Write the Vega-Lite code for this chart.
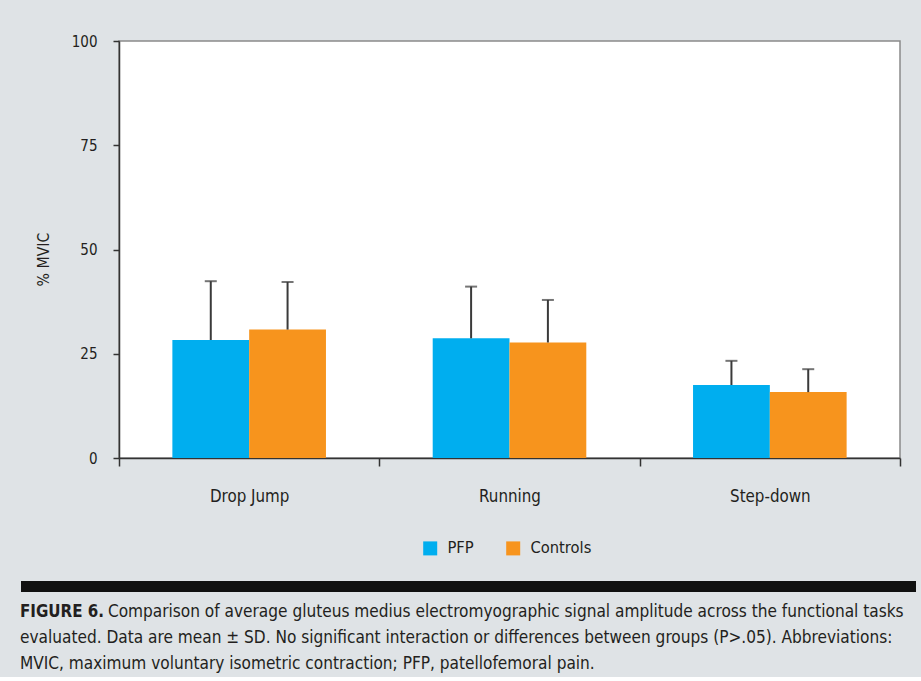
{
  "$schema": "https://vega.github.io/schema/vega-lite/v6.json",
  "background": "#dfe3e6",
  "padding": {"left": 15, "top": 33, "right": 5, "bottom": 5},
  "config": {
    "font": "DejaVu Sans Condensed, DejaVu Sans, sans-serif",
    "view": {"stroke": null}
  },
  "title": {
    "text": "FIGURE 6.",
    "subtitle": [
      "\u200b\u00a0\u00a0\u00a0\u00a0\u00a0\u00a0\u00a0\u00a0\u00a0\u00a0\u00a0\u00a0\u00a0\u00a0\u00a0\u00a0\u00a0\u00a0Comparison of average gluteus medius electromyographic signal amplitude across the functional tasks",
      "evaluated. Data are mean \u00b1 SD. No significant interaction or differences between groups (P>.05). Abbreviations:",
      "MVIC, maximum voluntary isometric contraction; PFP, patellofemoral pain."
    ],
    "orient": "bottom",
    "anchor": "start",
    "frame": "bounds",
    "dx": 5,
    "font": "DejaVu Sans Condensed, DejaVu Sans, sans-serif",
    "fontSize": 16.8,
    "fontWeight": "bold",
    "color": "#231f20",
    "subtitleFont": "DejaVu Sans Condensed, DejaVu Sans, sans-serif",
    "subtitleFontSize": 17.1,
    "subtitleColor": "#231f20",
    "subtitleLineHeight": 26,
    "subtitlePadding": -18,
    "offset": 12
  },
  "spacing": 22,
  "resolve": {"legend": {"color": "independent"}},
  "vconcat": [
    {
      "width": 781,
      "height": 417,
      "view": {"fill": "white", "stroke": "#8a8a8a", "strokeWidth": 1.5},
      "data": {
        "values": [
          {"task": "Drop Jump", "group": "PFP", "mean": 28.3, "upper": 42.4},
          {"task": "Drop Jump", "group": "Controls", "mean": 30.8, "upper": 42.2},
          {"task": "Running", "group": "PFP", "mean": 28.7, "upper": 41.1},
          {"task": "Running", "group": "Controls", "mean": 27.7, "upper": 37.9},
          {"task": "Step-down", "group": "PFP", "mean": 17.5, "upper": 23.3},
          {"task": "Step-down", "group": "Controls", "mean": 15.8, "upper": 21.3}
        ]
      },
      "encoding": {
        "x": {
          "field": "task",
          "type": "nominal",
          "sort": ["Drop Jump", "Running", "Step-down"],
          "scale": {"paddingInner": 0, "paddingOuter": 0},
          "axis": {
            "title": null,
            "labelAngle": 0,
            "labelFontSize": 16.8,
            "labelColor": "#231f20",
            "labelPadding": 22,
            "tickBand": "extent",
            "tickSize": 8,
            "tickColor": "#333333",
            "tickWidth": 1.5,
            "domainColor": "#333333",
            "domainWidth": 1.5
          }
        },
        "xOffset": {
          "field": "group",
          "type": "nominal",
          "sort": ["PFP", "Controls"],
          "scale": {"paddingInner": 0, "paddingOuter": 0.695}
        }
      },
      "layer": [
        {
          "mark": {"type": "bar"},
          "encoding": {
            "y": {
              "field": "mean",
              "type": "quantitative",
              "scale": {"domain": [0, 100]},
              "axis": {
                "title": "% MVIC",
                "values": [0, 25, 50, 75, 100],
                "grid": false,
                "labelFontSize": 15,
                "labelColor": "#231f20",
                "labelPadding": 16,
                "tickSize": 6,
                "tickColor": "#333333",
                "tickWidth": 1.5,
                "domainColor": "#333333",
                "domainWidth": 1.5,
                "titleFontSize": 15.7,
                "titleFontWeight": "normal",
                "titleColor": "#231f20",
                "titlePadding": 20,
                "titleY": 218
              }
            },
            "color": {
              "field": "group",
              "type": "nominal",
              "scale": {"domain": ["PFP", "Controls"], "range": ["#00aeef", "#f7941d"]},
              "legend": {
                "title": null,
                "orient": "none",
                "legendX": 303,
                "legendY": 499,
                "direction": "horizontal",
                "padding": 0,
                "symbolType": "square",
                "symbolSize": 196,
                "symbolStrokeWidth": 0,
                "labelFontSize": 16.4,
                "labelColor": "#231f20",
                "labelOffset": 9,
                "columnPadding": 31
              }
            }
          }
        },
        {
          "mark": {"type": "rule", "color": "#3a3a3a", "strokeWidth": 2},
          "encoding": {
            "y": {"field": "mean", "type": "quantitative"},
            "y2": {"field": "upper"}
          }
        },
        {
          "mark": {"type": "tick", "color": "#3a3a3a", "thickness": 2, "size": 12},
          "encoding": {
            "y": {"field": "upper", "type": "quantitative"}
          }
        }
      ]
    },
    {
      "width": 797,
      "height": 11,
      "view": {"fill": "#111111", "stroke": null},
      "data": {"values": [{"bar": "rule"}]},
      "mark": {"type": "bar", "color": "#111111"},
      "encoding": {
        "y": {
          "field": "bar",
          "type": "nominal",
          "scale": {"paddingInner": 0, "paddingOuter": 0},
          "axis": {
            "title": null,
            "labels": false,
            "domain": false,
            "tickSize": 98.5,
            "tickWidth": 11,
            "tickColor": "#111111"
          }
        }
      }
    }
  ]
}
